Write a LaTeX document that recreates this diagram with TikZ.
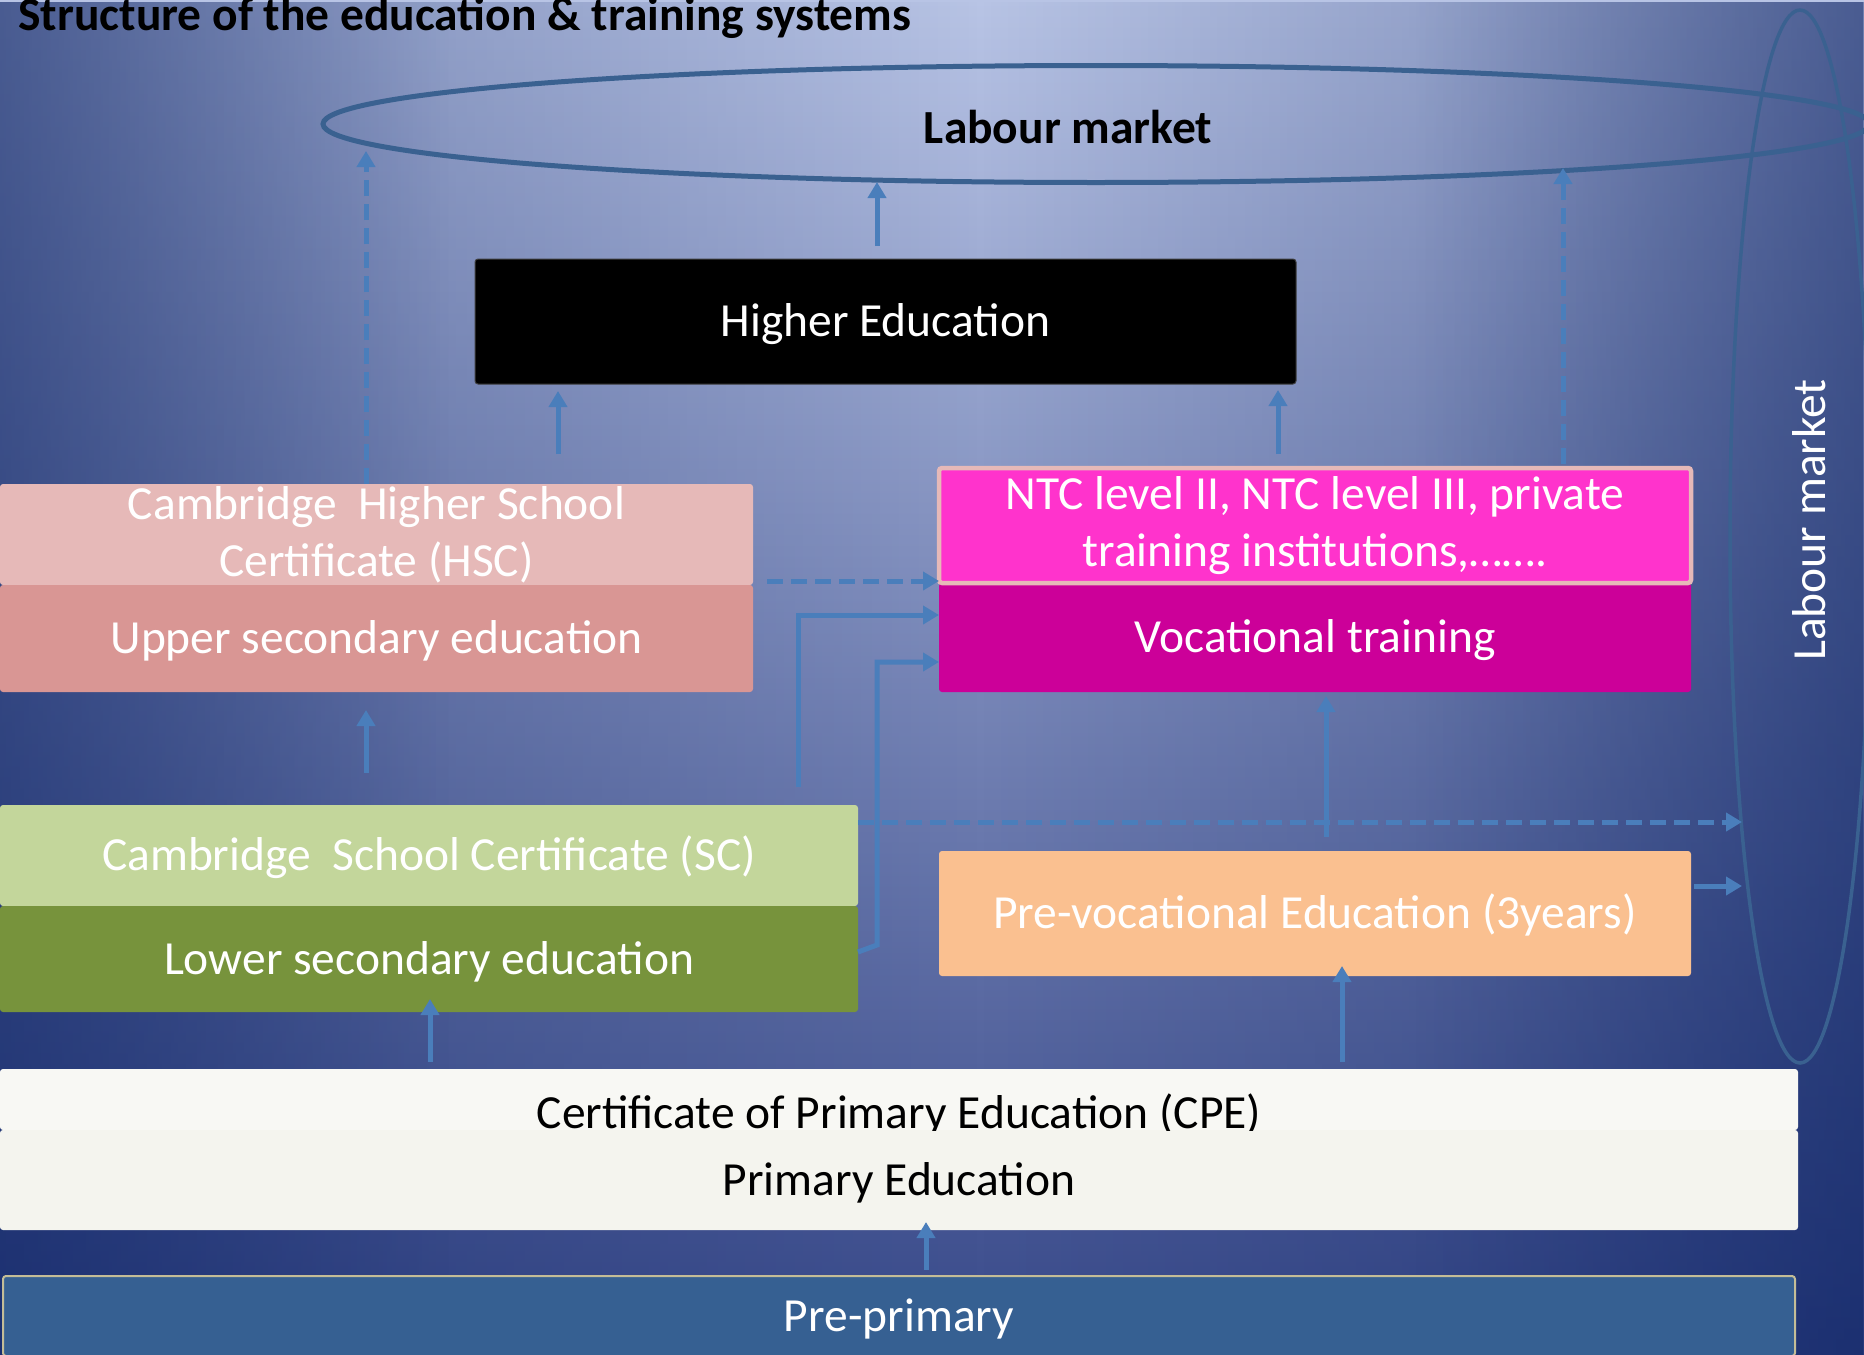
\documentclass[tikz,border=0pt]{standalone}
\usepackage{fontspec}
\setmainfont{Carlito}
\usetikzlibrary{shapes,arrows.meta,positioning,fadings}

\definecolor{hscpink}{HTML}{E6B9B8}
\definecolor{upperrose}{HTML}{D99694}
\definecolor{scgreen}{HTML}{C3D69B}
\definecolor{lowerolive}{HTML}{77933C}
\definecolor{ntcmagenta}{HTML}{FF33CC}
\definecolor{vocplum}{HTML}{CC0099}
\definecolor{prevocpeach}{HTML}{FAC090}
\definecolor{cpewhite}{HTML}{F8F8F4}
\definecolor{primwhite}{HTML}{F4F4EE}
\definecolor{preprimblue}{HTML}{366092}
\definecolor{preprimedge}{HTML}{C4BD97}
\definecolor{linkblue}{HTML}{4A7EBB}
\definecolor{ringblue}{HTML}{3A6190}
\definecolor{bgtop}{HTML}{B8C4E5}
\definecolor{bgmid}{HTML}{7483B5}
\definecolor{bgbot}{HTML}{38498A}
\definecolor{bgnavy}{HTML}{0C2263}

\tikzfading[name=fadeinward, left color=transparent!0, right color=transparent!100]
\tikzfading[name=fadeoutward, left color=transparent!100, right color=transparent!0]

\newcommand\boxfont{\fontsize{23.75pt}{28.5pt}\selectfont}

\begin{document}
\begin{tikzpicture}[
    x=0.5pt, y=-0.5pt,
    node distance=0pt,
    stage/.style={rectangle, anchor=north west, inner sep=0pt, outer sep=0pt, rounded corners=1.5pt, text=white, font=\boxfont, text height=19pt, text depth=3.8pt},
    certtext/.style={font=\boxfont, text=white, align=center, inner sep=0pt},
    ring/.style={ellipse, draw=ringblue, inner sep=0pt},
    arrow/.style={draw=linkblue, line width=2.5pt, -{Triangle[length=8pt, width=9pt]}},
    dasharrow/.style={arrow, dash pattern=on 8pt off 4pt},
    vignette/.style={fill=bgnavy, fill opacity=0.4},
    title/.style={font=\boxfont\bfseries, anchor=base west, inner sep=0pt}
]

% Background
\useasboundingbox (0,0) rectangle (1864,1355);
\clip (0,0) rectangle (1864,1355);
\shade[top color=bgtop, middle color=bgmid, bottom color=bgbot] (0,0) rectangle (1864,1355);
\fill[vignette, path fading=fadeinward] (0,0) rectangle (980,1355);
\fill[vignette, path fading=fadeinward] (0,0) rectangle (450,1355);
\fill[vignette, path fading=fadeoutward] (980,0) rectangle (1864,1355);
\fill[vignette, path fading=fadeoutward] (1414,0) rectangle (1864,1355);

% Title
\node[title] (title) at (18,30) {Structure of the education \& training systems};

% Labour market rings
\node[ring, line width=2.5pt, minimum width=773pt, minimum height=58.5pt] (marketring) at (1096,124) {};
\node[ring, line width=1.75pt, minimum width=70pt, minimum height=526.5pt] (sidering) at (1800,536.5) {};
\node[font=\boxfont\bfseries, anchor=base, inner sep=0pt] (markettop) at (1068,143) {Labour market};
\node[font=\boxfont, text=white, rotate=90, anchor=base, inner sep=0pt] (marketside) at (1825,520) {Labour market};

% Higher education
\node[stage, fill=black, draw=black!75, line width=0.5pt, minimum width=410.5pt, minimum height=62.5pt] (higher) at (475,259) {Higher Education};

% Upper secondary
\node[stage, fill=hscpink, minimum width=376.5pt, minimum height=50.5pt] (hsc) at (0,484) {};
\node[stage, fill=upperrose, minimum width=376.5pt, minimum height=53.5pt, below=of hsc] (upper) {Upper secondary education};
\node[certtext] (hsctext) at (hsc) {Cambridge~~Higher School\\Certificate (HSC)};

% Vocational training
\node[stage, fill=vocplum, minimum width=376pt, minimum height=54.5pt] (voc) at (939,583) {Vocational training};
\node[stage, fill=ntcmagenta, draw=hscpink, line width=2.25pt, minimum width=376pt, minimum height=57.5pt, above=of voc] (ntc) {};
\node[certtext] (ntctext) at (ntc) {NTC level II, NTC level III, private\\training institutions,…….};

% Lower secondary
\node[stage, fill=scgreen, minimum width=429pt, minimum height=50.5pt] (sc) at (0,805) {Cambridge~~School Certificate (SC)};
\node[stage, fill=lowerolive, minimum width=429pt, minimum height=53pt, below=of sc] (lower) {Lower secondary education};

% Pre-vocational
\node[stage, fill=prevocpeach, minimum width=376pt, minimum height=62.5pt] (prevoc) at (939,851) {Pre-vocational Education (3years)};

% Primary
\node[stage, fill=cpewhite, minimum width=899pt, minimum height=30.5pt] (cpe) at (0,1069) {};
\node[stage, fill=primwhite, text=black, minimum width=899pt, minimum height=50pt, below=of cpe] (primary) {Primary Education};
\begin{scope}
  \clip (cpe.north west) rectangle (cpe.south east);
  \node[certtext, text=black, anchor=base] (cpetext) at ([yshift=1pt]cpe.south) {Certificate of Primary Education (CPE)};
\end{scope}

% Pre-primary
\node[stage, fill=preprimblue, draw=preprimedge, line width=1pt, minimum width=896pt, minimum height=40pt] (preprim) at (3,1276) {Pre-primary};

% Arrows to the labour market
\coordinate (hscup) at ([xshift=-5.25pt]hsc.north);
\draw[dasharrow, shorten >=13.5pt] (hscup) -- (hscup |- marketring.center);
\coordinate (higherup) at ([xshift=-4.25pt]higher.north);
\draw[arrow, shorten <=6.5pt, shorten >=29pt] (higherup) -- (higherup |- marketring.center);
\coordinate (ntcup) at ([xshift=124pt]ntc.north);
\draw[dasharrow, shorten <=2pt, shorten >=22pt] (ntcup) -- (ntcup |- marketring.center);

% Arrows into higher education
\coordinate (hscin) at ([xshift=90.75pt]hsc.north);
\draw[arrow, shorten <=15pt, shorten >=3.5pt] (hscin) -- (hscin |- higher.south);
\coordinate (ntcin) at ([xshift=-18.5pt]ntc.north);
\draw[arrow, shorten <=7pt, shorten >=3pt] (ntcin) -- (ntcin |- higher.south);

% Arrows into vocational training
\coordinate (hscside) at ([yshift=2pt]hsc.south east);
\draw[dasharrow, shorten <=7pt] (hscside) -- (hscside -| ntc.west);
\coordinate (scrise) at ([xshift=184.5pt, yshift=9pt]sc.north);
\draw[arrow] (scrise) |- ([yshift=11.25pt]voc.west);
\coordinate (lowerside) at ([yshift=3.5pt]lower.east);
\draw[arrow] (lowerside) -- ++(19,-7) |- ([yshift=-12.25pt]voc.west);
\coordinate (vocin) at ([xshift=5.5pt, yshift=7pt]prevoc.north);
\draw[arrow, shorten >=2pt] (vocin) -- (vocin |- voc.south);

% Side exits to the labour market
\coordinate (scside) at ([yshift=-8.5pt]sc.north east);
\draw[dasharrow, shorten >=29pt] (scside) -- (scside -| sidering.center);
\coordinate (prevocside) at ([yshift=13.75pt]prevoc.east);
\draw[arrow, shorten <=1.5pt, shorten >=29pt] (prevocside) -- (prevocside -| sidering.center);

% Arrows up from primary and lower secondary
\coordinate (upperin) at ([xshift=-31.5pt]sc.north);
\draw[arrow, shorten <=16pt, shorten >=9pt] (upperin) -- (upperin |- upper.south);
\coordinate (cpeleft) at ([xshift=-234.5pt]cpe.north);
\draw[arrow, shorten <=3.5pt, shorten >=-6.5pt] (cpeleft) -- (cpeleft |- lower.south);
\coordinate (cperight) at ([xshift=221.5pt]cpe.north);
\draw[arrow, shorten <=3.5pt, shorten >=-5pt] (cperight) -- (cperight |- prevoc.south);
\coordinate (preprimup) at ([xshift=13.5pt]preprim.north);
\draw[arrow, shorten <=3pt, shorten >=-4pt] (preprimup) -- (preprimup |- primary.south);

\end{tikzpicture}
\end{document}
